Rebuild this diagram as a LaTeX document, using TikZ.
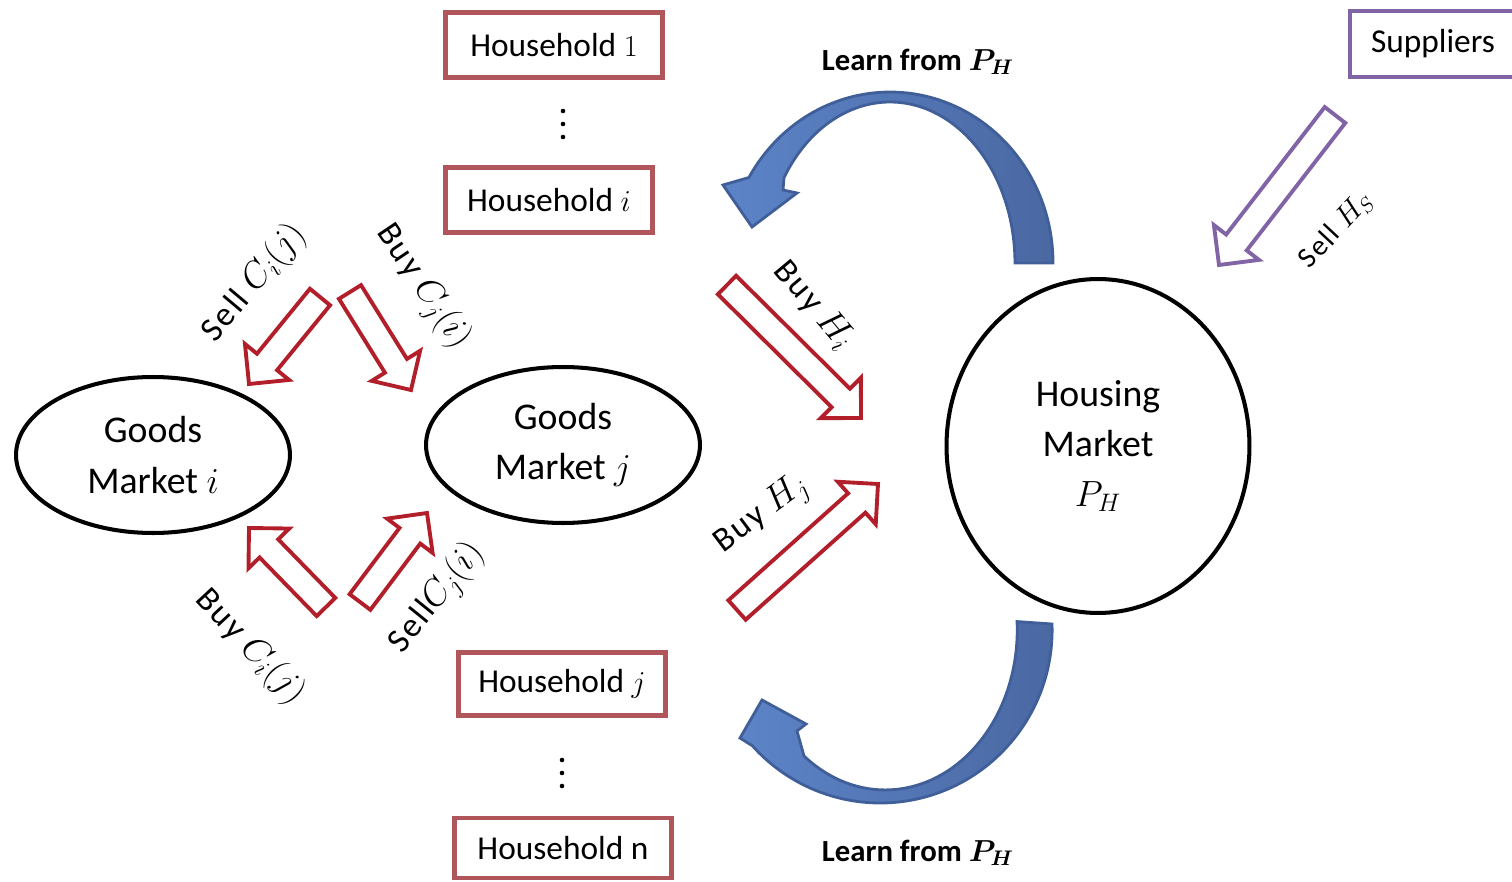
\documentclass[tikz,border=0pt]{standalone}
\usepackage{fontspec}
\setmainfont{Carlito}
\usetikzlibrary{calc,shapes.geometric}

\definecolor{hhred}{RGB}{176,86,90}
\definecolor{flowred}{RGB}{178,30,42}
\definecolor{suppurple}{RGB}{128,100,166}
\definecolor{learnedge}{RGB}{64,95,152}
\definecolor{learnlight}{RGB}{92,132,200}
\definecolor{learndark}{RGB}{74,104,162}

% hollow block arrow: #1 style, #2 tail coordinate, #3 tip coordinate
\newcommand\blockarrow[3]{%
  \coordinate (#2-hb) at ($(#3)!0.57cm!(#2)$);
  \draw[#1]
    ($(#2)!0.26cm!90:(#3)$) -- ($(#2-hb)!0.26cm!90:(#3)$) --
    ($(#2-hb)!0.57cm!90:(#3)$) -- (#3) --
    ($(#2-hb)!0.57cm!-90:(#3)$) -- ($(#2-hb)!0.26cm!-90:(#3)$) --
    ($(#2)!0.26cm!-90:(#3)$) -- cycle;}

\begin{document}
\begin{tikzpicture}[x=0.02cm,y=-0.02cm,
  hhbox/.style={draw=hhred, line width=2.8pt, minimum width=4.34cm,
    minimum height=1.3cm, inner sep=0pt, font=\fontsize{19}{23}\selectfont},
  supbox/.style={draw=suppurple, line width=2.6pt, minimum width=3.32cm,
    minimum height=1.32cm, inner sep=0pt, font=\fontsize{19}{23}\selectfont},
  market/.style={ellipse, draw, line width=2.3pt, align=center, inner sep=0pt,
    font=\fontsize{21.5}{28.5}\selectfont},
  redflow/.style={draw=flowred, line width=2.2pt, line join=miter},
  purpleflow/.style={draw=suppurple, line width=2.2pt, line join=miter},
  flowlbl/.style={inner sep=0pt, font=\fontsize{19.5}{21}\selectfont\addfontfeature{LetterSpace=6}},
  learnlbl/.style={inner sep=0pt, font=\fontsize{17.5}{20}\selectfont\bfseries},
  learnarrow/.style={left color=learnlight, right color=learndark,
    draw=learnedge, line width=1.6pt, line join=miter},
  dotmark/.style={fill=black}
]
\useasboundingbox (0,0) rectangle (1512,882);

% households
\node[hhbox] (h1) at (554,45) {Household $1$};
\node[hhbox, minimum width=4.14cm] (hi) at (549,200) {Household $i$};
\node[hhbox, minimum width=4.14cm, minimum height=1.26cm] (hj) at (562,684) {Household $j$};
\node[hhbox, minimum height=1.2cm] (hn) at (563,848) {Household n};
\fill[dotmark] (563,111) circle[radius=1.3pt] (563,124) circle[radius=1.3pt] (563,137) circle[radius=1.3pt];
\fill[dotmark] (562,760) circle[radius=1.3pt] (562,773) circle[radius=1.3pt] (562,786) circle[radius=1.3pt];

% suppliers
\node[supbox] (sup) at (1433,44) {Suppliers};

% markets
\node[market, minimum width=5.48cm, minimum height=3.12cm] (gmi) at (153,455) {Goods\\Market $i$};
\node[market, minimum width=5.48cm, minimum height=3.12cm] (gmj) at (563,445) {Goods\\Market $j$};
\node[market, minimum width=6.06cm, minimum height=6.68cm] (hm) at (1098,446) {Housing\\Market\\$P_H$};

% goods flows
\coordinate (sci-t) at (320,297); \coordinate (sci-h) at (249,384);
\coordinate (bcj-t) at (350,292); \coordinate (bcj-h) at (411,390);
\coordinate (bci-t) at (326,607); \coordinate (bci-h) at (249,528);
\coordinate (scj-t) at (360,602); \coordinate (scj-h) at (427,513);
\blockarrow{redflow}{sci-t}{sci-h}
\blockarrow{redflow}{bcj-t}{bcj-h}
\blockarrow{redflow}{bci-t}{bci-h}
\blockarrow{redflow}{scj-t}{scj-h}

% housing flows
\coordinate (bhi-t) at (727,285); \coordinate (bhi-h) at (861,418);
\coordinate (bhj-t) at (737,610); \coordinate (bhj-h) at (878,484);
\coordinate (shs-t) at (1335,115); \coordinate (shs-h) at (1219,265);
\blockarrow{redflow}{bhi-t}{bhi-h}
\blockarrow{redflow}{bhj-t}{bhj-h}
\blockarrow{purpleflow}{shs-t}{shs-h}

% flow labels
\node[flowlbl, rotate=50] (l-sci) at (254,283) {Sell $C_i(j)$};
\node[flowlbl, rotate=-56] (l-bcj) at (423,287) {Buy $C_j(i)$};
\node[flowlbl, rotate=-47] (l-bci) at (250,647) {Buy $C_i(j)$};
\node[flowlbl, rotate=51] (l-scj) at (437,598) {Sell$C_j(i)$};
\node[flowlbl, rotate=-50] (l-bhi) at (814,305) {Buy $H_i$};
\node[flowlbl, rotate=37] (l-bhj) at (762,515) {Buy $H_j$};
\node[flowlbl, rotate=47, font=\fontsize{16.5}{18}\selectfont\addfontfeature{LetterSpace=6}] (l-shs) at (1336,230) {Sell $H_S$};

% learning loops (outer and inner elliptic edges, arrow head at the left end)
\shadedraw[learnarrow]
  (1053,263) arc[start angle=0, end angle=150, x radius=3.26cm, y radius=3.42cm]
  -- (723,185) -- (752,227) -- (797,193) -- (783,190) -- (784,177.7)
  arc[start angle=148, end angle=0, x radius=2.5cm, y radius=3.22cm] -- cycle;
\shadedraw[learnarrow]
  (1052,624) arc[start angle=2, end angle=-138, x radius=3.44cm, y radius=3.46cm]
  -- (740,738) -- (762,700) -- (806,724) -- (797,731) -- (804,756)
  arc[start angle=-128, end angle=3, x radius=2.64cm, y radius=3.2cm] -- cycle;
\node[learnlbl] (learn-top) at (918,62) {Learn from {\boldmath$P_H$}};
\node[learnlbl] (learn-bot) at (918,853) {Learn from {\boldmath$P_H$}};
\end{tikzpicture}
\end{document}
